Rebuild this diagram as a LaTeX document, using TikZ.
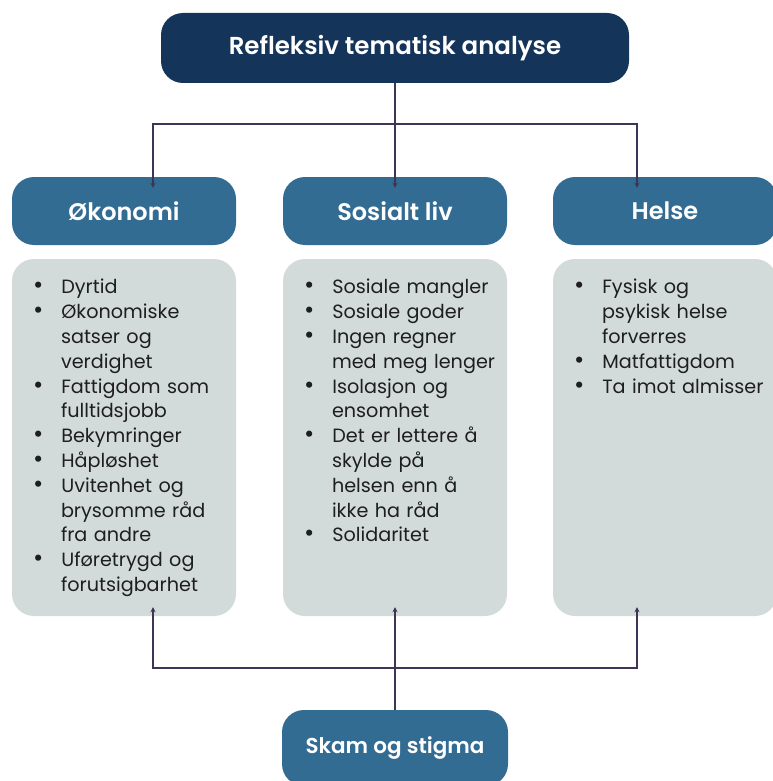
\documentclass[tikz,border=0pt]{standalone}
\usepackage{fontspec}
\setmainfont{Poppins}[BoldFont={Poppins SemiBold}]
\usepackage{enumitem}
\usepackage{xcolor}
\usetikzlibrary{positioning,arrows.meta}

\definecolor{navy}{HTML}{14345A}
\definecolor{steel}{HTML}{336C93}
\definecolor{panel}{HTML}{D3DBDA}
\definecolor{linkcol}{HTML}{3E3556}
\definecolor{ink}{HTML}{1E1E1E}

\newcommand{\dotlabel}{\fontsize{25}{25}\selectfont\textbullet}

\begin{document}
\begin{tikzpicture}[x=1pt,y=-1pt,
    titlebox/.style={fill=navy,rounded corners=22pt,minimum width=468pt,minimum height=70pt,
        text=white,font=\fontsize{24.5}{28}\selectfont\bfseries},
    headbox/.style={fill=steel,rounded corners=22pt,minimum width=224pt,minimum height=68pt,
        text=white,font=\fontsize{24}{28}\selectfont\bfseries},
    itembox/.style={fill=panel,rounded corners=22pt,minimum width=224pt,minimum height=357pt},
    itemtext/.style={anchor=north west,inner sep=0pt,text width=205pt,text=ink,
        font=\fontsize{19.2}{24.8}\selectfont},
    link/.style={draw=linkcol,line width=1.4pt},
    tip/.style={-{Stealth[length=5pt,width=5pt]}}]
    \useasboundingbox (0,0) rectangle (772,781);

    % Title
    \node[titlebox] (title) at (395,48) {Refleksiv tematisk analyse};

    % Themes
    \node[headbox] (econ) at (124,211) {Økonomi};
    \node[headbox] (social) at (395,211) {Sosialt liv};
    \node[headbox] (health) at (665,211) {Helse};

    % Panels
    \node[itembox] (econbox) at (124,437.5) {};
    \node[itembox] (socialbox) at (395,437.5) {};
    \node[itembox] (healthbox) at (665,437.5) {};

    \node[itemtext] (econlist) at ([xshift=21pt,yshift=-10pt]econbox.north west) {%
      \begin{itemize}[label=\dotlabel,leftmargin=28pt,labelsep=18pt,labelwidth=10pt,align=left,
          itemsep=0pt,topsep=0pt,parsep=0pt,partopsep=0pt]
        \item Dyrtid
        \item Økonomiske\\ satser og\\ verdighet
        \item Fattigdom som\\ fulltidsjobb
        \item Bekymringer
        \item Håpløshet
        \item Uvitenhet og\\ brysomme råd\\ fra andre
        \item Uføretrygd og\\ forutsigbarhet
      \end{itemize}};
    \node[itemtext] (sociallist) at ([xshift=21pt,yshift=-10pt]socialbox.north west) {%
      \begin{itemize}[label=\dotlabel,leftmargin=28pt,labelsep=18pt,labelwidth=10pt,align=left,
          itemsep=0pt,topsep=0pt,parsep=0pt,partopsep=0pt]
        \item Sosiale mangler
        \item Sosiale goder
        \item Ingen regner\\ med meg lenger
        \item Isolasjon og\\ ensomhet
        \item Det er lettere å\\ skylde på\\ helsen enn å\\ ikke ha råd
        \item Solidaritet
      \end{itemize}};
    \node[itemtext] (healthlist) at ([xshift=21pt,yshift=-10pt]healthbox.north west) {%
      \begin{itemize}[label=\dotlabel,leftmargin=28pt,labelsep=18pt,labelwidth=10pt,align=left,
          itemsep=0pt,topsep=0pt,parsep=0pt,partopsep=0pt]
        \item Fysisk og\\ psykisk helse\\ forverres
        \item Matfattigdom
        \item Ta imot almisser
      \end{itemize}};

    % Cross-cutting theme
    \node[headbox,minimum width=226pt,minimum height=76pt,font=\fontsize{21.5}{26}\selectfont\bfseries]
        (shame) at (395,748) {Skam og stigma};

    % Top connectors
    \coordinate (split) at (395,124);
    \draw[link,tip] (title.south) -- ([yshift=-11pt]social.north);
    \draw[link,{Stealth[length=5pt,width=5pt]}-{Stealth[length=5pt,width=5pt]}]
        ([xshift=29pt,yshift=-11pt]econ.north) |- (split) -| ([xshift=-28pt,yshift=-11pt]health.north);

    % Bottom connectors
    \coordinate (join) at (395,668);
    \draw[link,tip] (shame.north) -- ([yshift=9pt]socialbox.south);
    \draw[link,{Stealth[length=5pt,width=5pt]}-{Stealth[length=5pt,width=5pt]}]
        ([xshift=29pt,yshift=9pt]econbox.south) |- (join) -| ([xshift=-28pt,yshift=9pt]healthbox.south);
\end{tikzpicture}
\end{document}
